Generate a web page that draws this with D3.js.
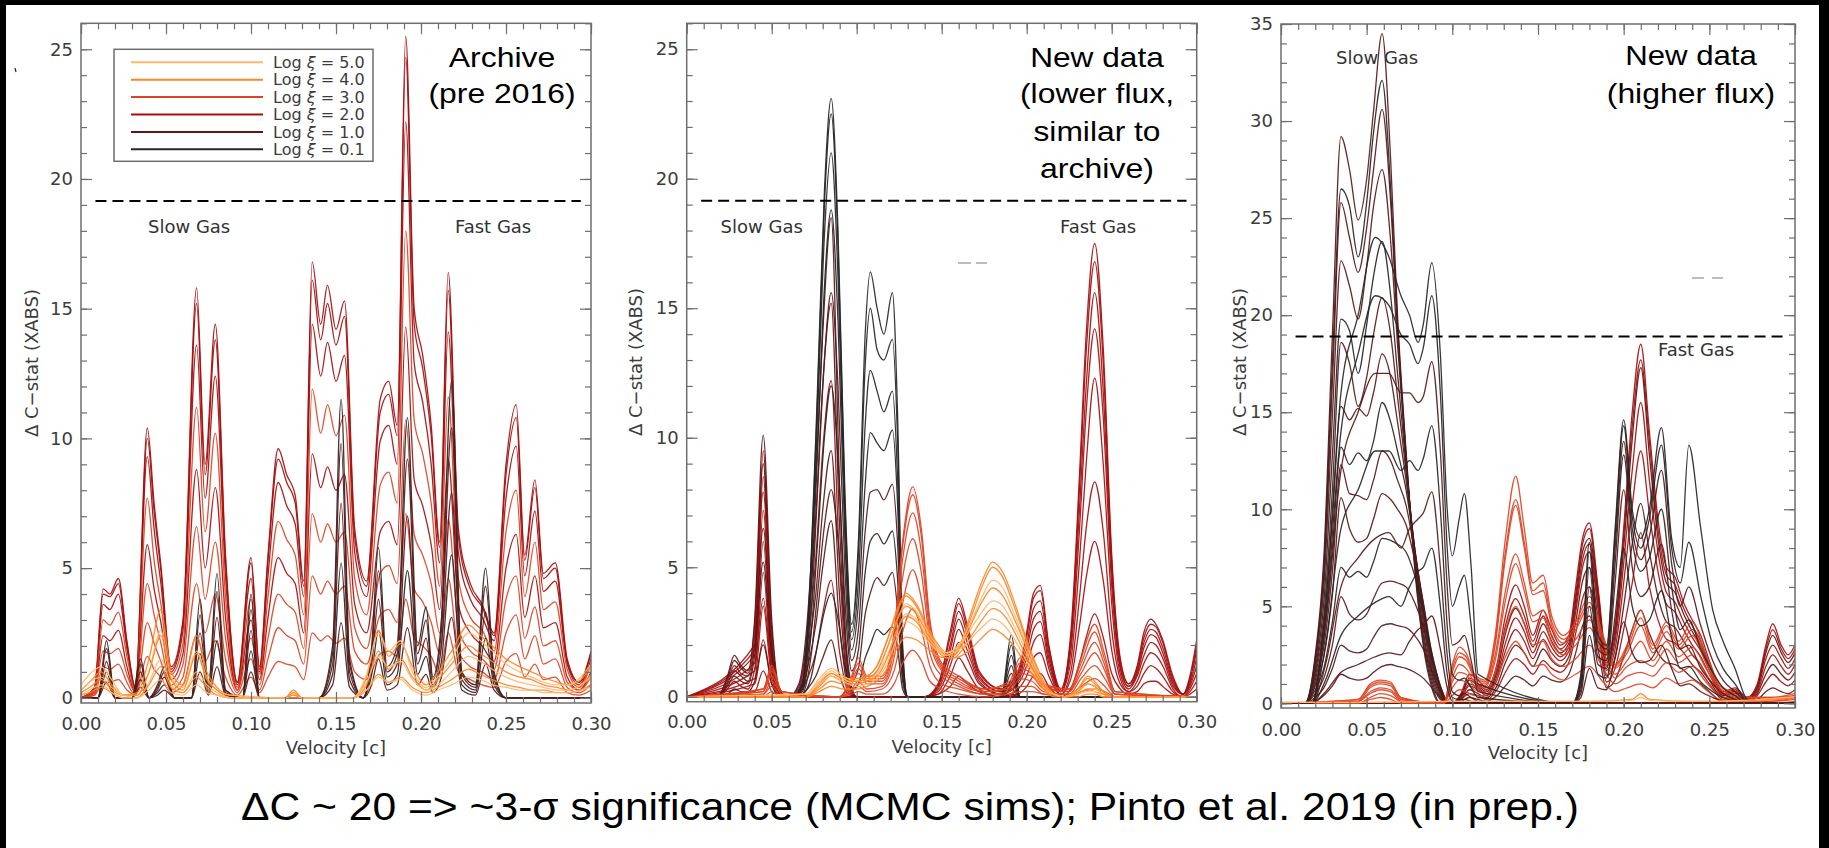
<!DOCTYPE html>
<html><head><meta charset="utf-8">
<script src="https://cdn.jsdelivr.net/npm/d3@7"></script>
<style>html,body{margin:0;padding:0;background:#000;}svg{display:block;}</style>
</head><body><svg id="c" width="1829" height="848"></svg>
<script>
// ================= DATA =================
const xiLevels = ["5.0","4.0","3.0","2.0","1.0","0.1"];
const velocityTicks = [0,0.05,0.10,0.15,0.20,0.25,0.30];
const yTicksP12 = [0,5,10,15,20,25];
const yTicksP3 = [0,5,10,15,20,25,30,35];
const significance = [19.15,19.15,18.9];
const significanceRange = [0.0085,0.294];
const panelTitles = [["Archive","(pre 2016)"],["New data","(lower flux,","similar to","archive)"],["New data","(higher flux)"]];
const caption = "\u0394C ~ 20 => ~3-\u03c3 significance (MCMC sims); Pinto et al. 2019 (in prep.)";

// ---- Panel 1 (Archive) ----
const p1RedV = [0,.008,.013,.017,.022,.027,.032,.039,.043,.047,.053,.060,.068,.073,.079,.085,.092,.100,.105,.110,.116,.121,.126,.131,.136,.141,.145,.150,.155,.161,.168,.176,.181,.186,.191,.196,.201,.206,.211,.216,.222,.229,.236,.243,.250,.256,.261,.267,.272,.279,.286,.293,.300];
const p1Red = [
[0,.4,4.2,4.0,4.6,2.2,.4,10.4,7.5,5.1,1.2,3.0,15.8,9.0,14.4,5.5,.6,5.4,1.2,5.5,9.6,8.6,7.8,4.5,16.8,14.4,15.9,14.2,15.3,6.5,4.5,11.5,12.2,10.5,25.5,15.0,13.2,10.5,6.0,16.4,6.5,4.4,3.6,2.5,9.0,11.3,5.5,8.4,4.8,5.2,1.5,.6,1.8],
[0,.4,4.0,3.9,4.4,2.1,.4,10.0,7.2,4.9,1.1,2.9,15.2,8.6,13.8,5.3,.6,5.2,1.1,5.3,9.2,8.3,7.5,4.3,16.1,13.8,15.2,13.6,14.7,6.2,4.3,11.0,11.7,10.1,24.7,14.4,12.7,10.1,5.8,15.7,6.2,4.2,3.5,2.4,8.6,10.8,5.3,8.1,4.6,5.0,1.4,.6,1.7],
[0,.3,3.6,3.4,4.0,1.9,.3,9.3,6.5,4.4,1.0,2.6,13.6,7.7,12.4,4.7,.5,4.6,1.0,4.7,8.3,7.4,6.7,3.9,14.4,12.4,13.7,12.2,13.2,5.6,3.9,9.9,10.5,9.0,22.2,12.9,11.4,9.0,5.2,14.1,5.6,3.8,3.1,2.2,7.7,9.7,4.7,7.2,4.1,4.5,1.3,.5,1.5],
[0,.3,3.0,2.8,3.3,1.6,.3,7.7,5.3,3.6,.9,2.1,11.2,6.4,10.2,3.9,.4,3.8,.9,3.9,6.8,6.1,5.5,3.2,11.9,10.2,11.3,10.1,10.9,4.6,3.2,8.2,8.7,7.5,18.0,10.7,9.4,7.5,4.3,11.6,4.6,3.1,2.6,1.8,6.4,8.0,3.9,6.0,3.4,3.7,1.1,.4,1.3],
[0,.2,2.4,2.2,2.6,1.2,.2,5.9,4.2,2.9,.7,1.7,8.8,5.0,8.1,3.1,.3,3.0,.7,3.1,5.4,4.8,4.4,2.5,9.4,8.1,8.9,8.0,8.6,3.6,2.5,6.4,6.8,5.9,14.3,8.4,7.4,5.9,3.4,9.2,3.6,2.5,2.0,1.4,5.0,6.3,3.1,4.7,2.7,2.9,.8,.3,1.0],
[0,.2,1.8,1.7,1.9,.9,.2,4.4,3.2,2.1,.5,1.3,6.6,3.8,6.0,2.3,.3,2.3,.5,2.3,4.0,3.6,3.3,1.9,7.1,6.0,6.7,6.0,6.4,2.7,1.9,4.8,5.1,4.4,10.7,6.3,5.5,4.4,2.5,6.9,2.7,1.8,1.5,1.1,3.8,4.7,2.3,3.5,2.0,2.2,.6,.3,.8],
[0,.1,1.2,1.1,1.3,.6,.1,2.9,2.1,1.4,.3,.8,4.4,2.5,4.0,1.5,.2,1.5,.3,1.5,2.7,2.4,2.2,1.3,4.7,4.0,4.5,4.0,4.3,1.8,1.3,3.2,3.4,2.9,7.1,4.2,3.7,2.9,1.7,4.6,1.8,1.2,1.0,.7,2.5,3.2,1.5,2.4,1.3,1.5,.4,.2,.5],
[0,.1,.6,.6,.7,.3,.1,1.6,1.1,.8,.2,.5,2.4,1.4,2.2,.8,.1,.8,.2,.8,1.4,1.3,1.2,.7,2.5,2.2,2.4,2.1,2.3,1.0,.7,1.7,1.8,1.6,3.8,2.3,2.0,1.6,.9,2.5,1.0,.7,.5,.4,1.4,1.7,.8,1.3,.7,.8,.2,.1,.3]];
const p1RedXi = ["2.0","2.0","2.0","3.0","2.0","3.0","3.0","3.0"];

const p1DarkV = [0,.010,.015,.020,.030,.035,.040,.045,.049,.055,.065,.070,.075,.080,.085,.095,.100,.105,.140,.148,.153,.158,.166,.171,.175,.180,.186,.192,.198,.203,.207,.212,.218,.224,.232,.238,.243,.250,.300];
const p1Dark = [
[0,0,2.2,0,0,1.5,0,.5,1.2,0,0,3.8,.5,4.8,.3,0,4.0,0,0,2,11.5,1.5,0,2,5.8,1.2,2,10.8,2,3.5,.8,3,12.2,1,.5,5.0,1.0,0,0],
[0,0,1.9,0,0,1.3,0,.4,1.0,0,0,3.2,.4,4.1,.3,0,3.4,0,0,1.7,9.8,1.3,0,1.7,4.9,1.0,1.7,9.2,1.7,3.0,.7,2.6,10.4,.9,.4,4.3,.9,0,0],
[0,0,1.4,0,0,1.0,0,.3,.8,0,0,2.5,.3,3.1,.2,0,2.6,0,0,1.3,7.5,1.0,0,1.3,3.8,.8,1.3,7.0,1.3,2.3,.5,2.0,7.9,.7,.3,3.3,.7,0,0],
[0,0,1.0,0,0,.7,0,.2,.5,0,0,1.7,.2,2.2,.1,0,1.8,0,0,.9,5.2,.7,0,.9,2.6,.5,.9,4.9,.9,1.6,.4,1.4,5.5,.5,.2,2.3,.5,0,0],
[0,0,.6,0,0,.4,0,.1,.3,0,0,1.0,.1,1.2,.1,0,1.0,0,0,.5,2.9,.4,0,.5,1.5,.3,.5,2.7,.5,.9,.2,.8,3.1,.3,.1,1.3,.3,0,0]];
const p1DarkXi = ["0.1","1.0","1.0","0.1","1.0"];

const p1OrangeV = [0,.005,.012,.018,.025,.033,.040,.047,.053,.060,.068,.074,.080,.088,.120,.125,.130,.160,.168,.175,.181,.188,.195,.203,.210,.218,.228,.235,.242,.250,.258,.265,.272,.280,.287,.294,.300];
const p1Orange = [
[.3,.6,1.0,.5,.1,.2,1.5,3.4,1.0,.5,2.4,1.0,.4,.1,0,.3,0,0,.8,2.6,1.6,2.1,1.2,.5,1.0,1.8,2.8,2.4,2.0,1.5,1.2,1.0,.8,.6,.5,.7,1.2],
[.5,.9,1.2,.7,.1,.1,1.0,2.6,.8,.4,1.8,.8,.3,.1,0,.2,0,0,.9,2.5,1.8,2.2,1.0,.4,.8,1.5,2.5,2.2,1.8,1.3,1.0,.8,.6,.5,.5,.8,1.3],
[.2,.4,.7,.3,.1,.1,1.0,2.4,.7,.3,1.7,.7,.3,0,0,.2,0,0,.5,1.8,1.1,1.5,.8,.3,.7,1.3,2.0,1.7,1.4,1.0,.8,.7,.5,.4,.3,.5,.9],
[.3,.6,.8,.4,.1,0,.6,1.5,.5,.2,1.0,.5,.2,0,0,.1,0,0,.6,1.6,1.2,1.4,.7,.3,.5,1.0,1.6,1.4,1.1,.8,.6,.5,.4,.3,.3,.5,.8],
[.1,.2,.4,.2,0,0,.5,1.2,.4,.2,.8,.4,.1,0,0,.1,0,0,.3,.9,.6,.8,.4,.2,.4,.7,1.1,.9,.7,.5,.4,.3,.3,.2,.2,.3,.5],
[.1,.3,.5,.2,0,0,.3,.7,.2,.1,.5,.2,.1,0,0,0,0,0,.3,.8,.6,.7,.3,.1,.3,.5,.8,.7,.5,.4,.3,.3,.2,.2,.2,.3,.4]];
const p1OrangeXi = ["4.0","5.0","4.0","5.0","4.0","5.0"];

// ---- Panel 2 (New data, lower flux) ----
const p2DarkV = [0,.062,.068,.073,.077,.081,.085,.089,.093,.097,.101,.105,.108,.112,.116,.121,.124,.127,.130,.185,.191,.196,.300];
const p2Dark = [
[0,0,.5,5,12,19.5,23.1,18,8,2.8,6,14,16.4,15.0,14.0,15.6,11,2,0,0,2.4,0,0],
[0,0,.5,4.8,11.6,19,22.5,17.5,7.6,2.5,5.5,12.8,15.0,13.4,13.0,13.8,10,1.8,0,0,2.0,0,0],
[0,0,.4,4.4,10.8,17.8,21.0,16.2,7,2.2,4.5,10.5,12.6,11.8,11.0,11.8,8.5,1.5,0,0,1.6,0,0],
[0,0,.3,3.8,9.5,15.8,18.8,14.5,6.2,1.8,3.6,8.2,10.2,9.8,9.5,10.3,7.5,1.2,0,0,1.2,0,0],
[0,0,.3,3.0,8,13,15.6,12,5,1.4,2.6,6.4,7.9,8.0,7.6,8.2,6,1,0,0,.9,0,0],
[0,0,.2,2.3,6,10,12.0,9.2,3.8,1.0,1.8,4.8,6.0,6.3,5.9,6.4,4.6,.8,0,0,.6,0,0],
[0,0,.1,1.5,4,6.6,8.0,6.1,2.5,.6,1.1,3.2,4.0,4.6,4.3,4.8,3.4,.6,0,0,.3,0,0],
[0,0,.1,.7,2,3.3,4.0,3.0,1.2,.3,.5,1.5,2.0,2.6,2.4,2.7,1.9,.3,0,0,.1,0,0]];
const p2DarkXi = ["0.1","0.1","0.1","0.1","1.0","0.1","1.0","0.1"];

const p2MaroonV = [0,.018,.024,.028,.032,.036,.040,.045,.050,.055,.060,.066,.071,.076,.080,.085,.090,.095,.100,.300];
const p2Maroon = [
[0,0,.8,1.6,1.2,1.0,3,10.1,3,.2,0,.5,3,8.5,14,18.5,8,1,0,0],
[0,0,.7,1.4,1.1,.9,2.8,9.0,2.6,.2,0,.4,2.5,7.0,12,15.2,6.5,.8,0,0],
[0,0,.6,1.2,.9,.8,2.4,7.9,2.3,.1,0,.3,2.1,5.4,9.5,12.2,5,.6,0,0],
[0,0,.5,1.0,.8,.6,2.0,6.5,1.9,.1,0,.2,1.6,4.0,7.2,9.5,3.8,.5,0,0],
[0,0,.4,.8,.6,.5,1.6,5.2,1.5,.1,0,.1,1.1,2.8,5.0,6.8,2.7,.3,0,0],
[0,0,.3,.6,.4,.3,1.1,3.8,1.0,0,0,.1,.7,1.7,3.2,4.5,1.7,.2,0,0],
[0,0,.1,.3,.2,.2,.6,2.0,.5,0,0,0,.3,.8,1.5,2.2,.8,.1,0,0]];
const p2MaroonXi = ["1.0","1.0","2.0","1.0","1.0","2.0","1.0"];

const p2RedV = [0,.040,.045,.050,.056,.140,.148,.155,.160,.165,.172,.185,.195,.200,.204,.208,.213,.220,.226,.231,.235,.240,.245,.250,.255,.260,.265,.269,.273,.276,.280,.286,.292,.296,.300];
const p2Red = [
[0,2,9.5,2,0,0,.5,2.5,3.8,2.8,1.0,.3,1.0,2.5,4.0,4.3,2.0,.3,2.5,8.5,14,17.5,13.5,5.5,1.5,.5,1.2,2.5,3.0,2.8,2.2,.8,.1,.8,2.2],
[0,1.8,8.5,1.8,0,0,.5,2.3,3.6,2.6,.9,.3,.9,2.3,3.8,4.1,1.9,.3,2.3,8.0,13.3,16.8,12.9,5.2,1.4,.5,1.1,2.3,2.8,2.7,2.1,.7,.1,.7,2.0],
[0,1.6,7.2,1.6,0,0,.4,2.0,3.3,2.4,.8,.2,.8,2.0,3.4,3.7,1.7,.2,2.1,7.2,12.0,15.6,11.8,4.8,1.2,.4,1.0,2.1,2.6,2.5,1.9,.6,.1,.6,1.8],
[0,1.3,6.0,1.3,0,0,.4,1.8,3.0,2.1,.7,.2,.7,1.8,3.0,3.3,1.5,.2,1.8,6.4,11,14.2,10.8,4.3,1.1,.4,.9,1.9,2.4,2.3,1.7,.5,.1,.5,1.5],
[0,1.0,4.8,1.0,0,0,.3,1.5,2.6,1.8,.6,.1,.6,1.5,2.6,2.9,1.3,.2,1.4,5.2,9,12.3,9,3.6,.9,.3,.8,1.6,2.1,2.0,1.5,.4,.1,.4,1.2],
[0,.7,3.5,.7,0,0,.2,1.2,2.1,1.5,.5,.1,.5,1.2,2.1,2.4,1.1,.1,1.0,3.8,6.5,8.3,6.4,2.6,.7,.2,.6,1.3,1.7,1.6,1.2,.3,0,.3,.9],
[0,.5,2.2,.5,0,0,.1,.8,1.5,1.0,.3,0,.3,.8,1.5,1.7,.8,.1,.7,2.7,4.6,6.0,4.5,1.8,.5,.2,.4,.9,1.2,1.1,.8,.2,0,.2,.6],
[0,.2,1.0,.2,0,0,.1,.4,.8,.5,.2,0,.1,.4,.8,.9,.4,0,.3,1.3,2.3,3.2,2.3,.9,.3,.1,.2,.5,.6,.6,.4,.1,0,.1,.3]];
const p2RedXi = ["2.0","2.0","2.0","2.0","2.0","2.0","2.0","2.0"];

const p2OrRedV = [0,.045,.050,.056,.090,.097,.101,.106,.115,.122,.127,.133,.138,.143,.150,.160,.175,.190,.196,.203,.210,.225,.232,.240,.246,.252,.300];
const p2OrRed = [
[0,.3,1.2,.2,0,.8,1.5,.8,.8,2.5,6.0,8.1,6.5,3.0,1.3,.8,.3,.6,1.5,1.2,.5,.3,1.5,2.8,1.6,.2,0],
[0,.3,1.1,.2,0,.7,1.3,.7,.7,2.4,5.8,7.8,6.2,2.8,1.2,.7,.3,.5,1.3,1.1,.4,.3,1.3,2.5,1.4,.2,0],
[0,.2,1.0,.2,0,.6,1.1,.6,.6,2.2,5.3,7.1,5.6,2.5,1.1,.6,.2,.4,1.1,.9,.4,.2,1.1,2.1,1.2,.1,0],
[0,.2,.8,.1,0,.5,.9,.5,.5,1.9,4.6,6.1,4.8,2.2,1.0,.5,.2,.3,.9,.8,.3,.2,.9,1.7,1.0,.1,0],
[0,.1,.6,.1,0,.3,.6,.3,.4,1.5,3.6,4.9,3.8,1.7,.8,.4,.1,.2,.7,.6,.2,.1,.7,1.2,.7,.1,0],
[0,.1,.4,0,0,.2,.4,.2,.3,1.0,2.5,3.4,2.6,1.2,.5,.3,.1,.1,.4,.4,.1,.1,.4,.7,.4,0,0],
[0,0,.2,0,0,.1,.2,.1,.1,.5,1.3,1.8,1.4,.6,.3,.1,0,.1,.2,.2,.1,0,.2,.3,.2,0,0]];
const p2OrRedXi = ["3.0","3.0","3.0","3.0","3.0","3.0","3.0"];

const p2OrangeV = [0,.070,.078,.085,.092,.100,.106,.112,.118,.124,.129,.135,.141,.147,.153,.157,.162,.168,.174,.180,.186,.192,.198,.204,.210,.216,.222,.230,.236,.240,.245,.252,.300];
const p2Orange = [
[0,0,.5,.9,.7,.7,.8,1.2,2.2,3.4,4.0,3.6,2.8,2.1,1.7,1.7,2.2,3.4,4.5,5.2,4.8,3.8,2.6,1.5,.6,.1,0,.3,.8,.6,.2,0,0],
[0,0,.5,.9,.7,.7,.8,1.2,2.2,3.3,3.9,3.5,2.7,2.0,1.6,1.6,2.1,3.2,4.3,5.0,4.6,3.6,2.5,1.4,.5,.1,0,.3,.7,.5,.2,0,0],
[0,.1,.7,1.1,.8,.6,.7,1.0,1.9,3.0,3.6,3.3,2.6,2.0,1.7,1.8,2.2,3.0,3.9,4.5,4.2,3.3,2.3,1.3,.5,.1,0,.2,.5,.4,.1,0,0],
[0,0,.4,.8,.6,.6,.7,1.0,1.9,3.0,3.5,3.2,2.5,1.9,1.6,1.6,2.0,2.9,3.7,4.2,3.9,3.1,2.2,1.2,.5,.1,0,.2,.5,.4,.1,0,0],
[0,.1,.6,1.0,.7,.5,.6,.9,1.6,2.6,3.2,3.0,2.4,1.9,1.7,1.8,2.1,2.7,3.3,3.7,3.5,2.8,2.0,1.1,.4,.1,0,.1,.3,.3,.1,0,0],
[0,0,.3,.6,.5,.5,.6,.8,1.5,2.6,3.1,2.9,2.3,1.8,1.5,1.5,1.8,2.4,3.0,3.4,3.2,2.6,1.8,1.0,.4,.1,0,.1,.3,.2,.1,0,0],
[0,.1,.5,.8,.6,.4,.5,.7,1.3,2.3,2.9,2.7,2.2,1.8,1.6,1.7,1.9,2.3,2.7,3.0,2.8,2.3,1.6,.9,.3,.1,0,.1,.2,.2,0,0,0],
[0,0,.2,.4,.3,.3,.4,.6,1.1,1.9,2.3,2.2,1.9,1.6,1.5,1.5,1.6,1.9,2.3,2.6,2.4,2.0,1.4,.8,.3,0,0,0,.1,.1,0,0,0]];
const p2OrangeXi = ["4.0","4.0","5.0","4.0","5.0","4.0","5.0","4.0"];

// ---- Panel 3 (New data, higher flux) ----
const p3SlowV = [0,.014,.020,.025,.030,.035,.040,.045,.050,.054,.059,.064,.068,.073,.078,.083,.088,.093,.098,.103,.300];
const p3Slow = [
[0,0,2.5,7.5,19,29.2,27.5,24.9,27,30.5,34.5,28,20,13,7,3,.8,0,0,0,0],
[0,0,2.3,7,17.5,26.5,25.6,23,25.8,29.4,32.1,26.5,19.5,12.8,7.2,3.2,1.0,0,0,0,0],
[0,0,2.2,6.6,16.5,25.8,24,22.2,24.5,27.5,30.6,25.8,19.2,12.6,7.4,3.5,1.2,.2,0,0,0],
[0,0,2,6,14.8,22.8,21.5,19.8,22.5,25.6,27.5,23.8,18.5,12.5,7.6,3.8,1.4,.3,0,0,0],
[0,0,1.8,5.2,12.8,19.8,19.2,17.0,19.5,22.0,23.8,21.0,17.0,12.2,7.8,4.2,1.6,.4,0,0,0],
[0,0,1.6,4.5,11,18.6,17.5,15.3,16.8,19.0,20.9,19.0,15.8,11.9,8.0,4.5,1.8,.5,0,0,0],
[0,0,1.4,4,9.5,15.3,14.6,15.2,14.8,16.0,18.0,16.8,14.5,11.5,8.0,4.8,2.0,.6,0,0,0],
[0,0,1.2,3.4,8,13.2,12.3,12.9,12.5,13.5,15.5,14.5,13.0,11.0,8.0,5.0,2.2,.7,0,0,0],
[0,0,1.0,2.9,6.8,12.3,10.8,10.7,10.5,11.5,13.0,12.5,11.5,10.2,7.8,5.2,2.4,.8,0,0,0],
[0,0,.9,2.4,5.6,10.6,9.0,8.3,8.5,9.5,10.8,10.5,10.0,9.2,7.4,5.2,2.6,.9,0,0,0],
[0,0,.7,1.8,4.2,7.0,6.5,6.8,6.5,7.3,8.5,8.4,8.2,7.8,6.6,4.8,2.6,.9,0,0,0],
[0,0,.5,1.3,3.0,5.5,4.6,4.3,4.6,5.4,6.2,6.3,6.2,6.0,5.2,4.0,2.3,.8,0,0,0],
[0,0,.3,.8,1.8,3.0,2.7,2.6,2.8,3.4,4.0,4.1,4.0,3.9,3.5,2.8,1.7,.6,0,0,0],
[0,0,.1,.4,.9,1.5,1.3,1.2,1.3,1.6,1.9,2.0,1.9,1.8,1.6,1.3,.8,.3,0,0,0]];
const p3SlowXi = ["1.0","0.1","1.0","1.0","0.1","1.0","1.0","0.1","1.0","1.0","0.1","1.0","1.0","1.0"];

const p3DarkV = [0,.018,.026,.035,.045,.055,.063,.070,.075,.080,.083,.088,.093,.097,.100,.104,.107,.111,.115,.170,.175,.180,.185,.190,.195,.200,.205,.210,.215,.222,.228,.233,.238,.245,.252,.258,.265,.272,.278,.300];
const p3Dark = [
[0,0,5,16,20,24,23,21,20,18.6,19.5,22.7,18,10,7.6,9.5,10.8,7,1.5,0,1.5,8.3,3.5,3,9,14.6,10,8.5,10,14.2,8.5,7,13.3,9,4.8,3.2,1.8,.2,0,0],
[0,0,4.5,14,18,21,20.5,19,18.5,17.5,18.3,21.0,16,8,5,6,6.6,4,1,0,1.3,7.8,3.2,2.8,8.6,14.3,9.6,8.0,9.5,13.3,8.0,6.2,8.3,5.5,3.0,1.8,1.0,.1,0,0],
[0,0,4,12,15,17,17,16,16,15.5,15.8,17.6,13,6,3,3.2,3.5,2.2,.6,0,1.1,7.0,2.8,2.5,8.0,13.5,9.0,7.4,8.6,12.0,7.2,5.0,6.0,4.0,2.2,1.2,.6,.1,0,0],
[0,0,3,9,11,13,13,12,12.5,12,12.6,14.3,10,4,1.5,1.2,1.3,.8,.3,0,.9,6.0,2.4,2.2,7.2,12.8,8.4,6.8,7.5,10.0,6.0,3.8,4.3,2.8,1.6,.8,.4,0,0,0],
[0,0,2,6,7.5,8.5,8.8,8,9,9.5,9.8,10.9,7,2.5,.6,.4,.5,.3,.1,0,.7,5.0,2.0,1.8,6.2,11.0,7.0,5.5,6.0,8.2,4.8,2.8,3.0,1.8,1.0,.5,.2,0,0,0],
[0,0,1.2,3.5,4.5,5.2,5.5,5,6,6.8,7.0,8.0,5,1.5,.3,.2,.2,.1,0,0,.5,3.5,1.5,1.3,4.5,8.0,5.0,4.0,4.3,5.8,3.4,1.8,1.9,1.1,.6,.3,.1,0,0,0],
[0,0,.6,1.6,2.0,2.4,2.6,2.5,3.2,3.8,4.0,4.5,2.8,.8,.1,0,0,0,0,0,.3,1.8,.8,.7,2.4,4.2,2.6,2.1,2.2,3.0,1.8,.9,1.0,.6,.3,.1,0,0,0,0]];
const p3DarkXi = ["0.1","0.1","1.0","0.1","1.0","0.1","1.0"];

const p3RedV = [0,.100,.105,.110,.115,.120,.126,.131,.137,.142,.147,.153,.158,.163,.168,.172,.176,.180,.185,.190,.195,.200,.205,.210,.215,.220,.225,.230,.235,.240,.245,.250,.258,.265,.272,.278,.283,.287,.292,.296,.300];
const p3Red = [
[0,0,.5,1.5,1.2,.8,2,4.5,6.1,5,3.5,4.8,3.8,3.0,3.5,6,8.5,9.3,6,2.5,4,9,15,18.5,14,9.5,7.0,6.5,5.2,4.3,3.5,2.2,.6,.8,.3,1.0,3.0,4.1,3.0,2.5,3.0],
[0,0,.4,1.3,1.0,.7,1.8,4.0,5.4,4.5,3.2,4.5,3.5,2.8,3.3,5.6,8.2,9.0,5.8,2.3,3.8,8.6,14.3,17.7,13.5,9.0,6.6,6.1,4.9,4.0,3.2,2.0,.5,.7,.3,.9,2.8,3.8,2.8,2.3,2.8],
[0,0,.4,1.2,.9,.6,1.6,3.6,4.9,4.1,2.9,4.1,3.2,2.6,3.1,5.3,7.8,8.5,5.5,2.1,3.5,8.0,13.6,17.3,12.8,8.5,6.2,5.7,4.6,3.7,3.0,1.9,.5,.6,.2,.8,2.6,3.5,2.6,2.1,2.6],
[0,0,.3,1.0,.8,.5,1.4,3.1,4.4,3.7,2.6,3.7,2.9,2.4,2.9,5.0,7.4,8.2,5.2,1.9,3.2,7.2,12.0,15.5,11.5,7.8,5.7,5.2,4.2,3.4,2.7,1.7,.4,.6,.2,.7,2.3,3.0,2.3,1.8,2.3],
[0,0,.3,.9,.7,.4,1.2,2.7,3.8,3.2,2.3,3.3,2.6,2.2,2.7,4.7,7.0,7.8,4.9,1.7,2.8,6.2,10.2,13.0,9.8,6.8,5.1,4.7,3.8,3.0,2.4,1.5,.4,.5,.2,.6,1.9,2.5,1.9,1.5,2.0],
[0,0,.2,.7,.5,.3,.9,2.1,3.0,2.6,1.9,2.8,2.2,1.9,2.4,4.2,6.3,7.0,4.4,1.4,2.3,5.0,8.2,10.3,7.8,5.5,4.2,3.9,3.2,2.5,2.0,1.2,.3,.4,.1,.5,1.5,2.0,1.5,1.2,1.6],
[0,0,.2,.5,.4,.2,.7,1.6,2.3,2.0,1.5,2.2,1.8,1.6,2.1,3.6,5.4,6.0,3.8,1.1,1.8,3.8,6.2,8.8,6.0,4.3,3.3,3.1,2.6,2.0,1.6,1.0,.2,.3,.1,.4,1.1,1.5,1.1,.9,1.2],
[0,0,.1,.3,.2,.1,.4,.9,1.4,1.2,.9,1.4,1.2,1.1,1.5,2.6,4.0,4.5,2.8,.8,1.2,2.4,3.8,4.8,3.6,2.6,2.1,2.0,1.7,1.3,1.0,.6,.1,.2,.1,.2,.6,.8,.6,.5,.7]];
const p3RedXi = ["2.0","2.0","1.0","2.0","2.0","1.0","2.0","1.0"];

const p3OrRedV = [0,.045,.052,.058,.064,.070,.095,.100,.104,.108,.113,.119,.125,.131,.137,.142,.147,.153,.158,.165,.172,.180,.188,.195,.202,.210,.217,.225,.232,.240,.248,.256,.265,.275,.285,.300];
const p3OrRed = [
[0,.2,1.0,1.2,1.1,.3,0,2.0,2.9,2.6,1.5,1.2,3.5,8.5,11.7,9.0,6.2,6.6,4.5,3.5,4.2,5.5,3.5,2.0,3.0,4.8,3.0,4.2,3.2,4.2,2.5,1.0,.5,.3,.3,.5],
[0,.2,.9,1.1,1.0,.3,0,1.8,2.6,2.4,1.4,1.1,3.2,7.8,10.5,8.3,5.8,6.2,4.2,3.3,4.0,5.2,3.3,1.9,2.8,4.4,2.8,4.0,3.0,3.8,2.3,.9,.5,.3,.3,.4],
[0,.1,.8,1.0,.9,.2,0,1.6,2.4,2.2,1.3,1.0,3.0,7.5,10.2,8.0,5.6,5.8,4.0,3.1,3.8,5.0,3.1,1.8,2.6,4.0,2.6,3.7,2.8,3.5,2.1,.8,.4,.2,.2,.4],
[0,.1,.6,.8,.7,.2,0,1.3,2.0,1.8,1.1,.9,2.5,5.8,7.7,6.2,4.5,4.8,3.4,2.7,3.3,4.3,2.7,1.5,2.2,3.2,2.2,3.2,2.4,2.9,1.8,.7,.3,.2,.2,.3],
[0,.1,.5,.7,.6,.1,0,1.1,1.6,1.5,.9,.8,2.2,5.3,7.2,5.8,4.2,4.4,3.1,2.5,3.0,3.9,2.4,1.3,1.9,2.2,1.9,2.8,2.1,2.5,1.5,.6,.3,.1,.1,.3],
[0,0,.3,.5,.4,.1,0,.8,1.2,1.1,.7,.6,1.6,3.8,5.0,4.1,3.0,3.2,2.3,1.9,2.3,3.0,1.8,1.0,1.4,1.6,1.4,2.1,1.6,1.9,1.1,.4,.2,.1,.1,.2],
[0,0,.2,.3,.2,0,0,.4,.7,.6,.4,.4,1.0,2.4,3.2,2.6,1.9,2.0,1.5,1.2,1.5,1.9,1.1,.6,.8,1.0,.8,1.3,1.0,1.2,.7,.2,.1,0,0,.1]];
const p3OrRedXi = ["3.0","3.0","3.0","3.0","3.0","3.0","3.0"];

const p3OrangeV = [0,.05,.10,.15,.18,.205,.21,.215,.24,.27,.30];
const p3Orange = [
[.05,.05,.1,.1,.1,.2,.5,.2,.1,.1,.3],
[.05,.05,.1,.1,.1,.15,.3,.15,.1,.15,.35]];
const p3OrangeXi = ["4.0","5.0"];

// ================= STYLE / LAYOUT =================
const xiColor = {"5.0":"#ffb86e","4.0":"#ff8526","3.0":"#dc4425","2.0":"#a50e0e","1.0":"#5c1717","0.1":"#262626"};
const W = 1829, H = 848;
const layouts = [
  {x0:81, x1:591, yT:23.3, yB:703, yDom:[-0.2,26], yTicks:yTicksP12, yMax:26, pad:14,
   titleX:502, titleY:[66.7,102.7], titleW:[106.7,147],
   slow:[148,227], fast:[455,227], ylab:[32,363],
   fams:[[p1RedV,p1Red,p1RedXi],[p1DarkV,p1Dark,p1DarkXi],[p1OrangeV,p1Orange,p1OrangeXi]]},
  {x0:686.7, x1:1196.7, yT:23.3, yB:701.7, yDom:[-0.19,26], yTicks:yTicksP12, yMax:26, pad:14,
   titleX:1097, titleY:[66.7,103.3,141,178], titleW:[133.6,154,127,114],
   slow:[720.6,227], fast:[1060,227], ylab:[635.6,362],
   fams:[[p2RedV,p2Red,p2RedXi],[p2MaroonV,p2Maroon,p2MaroonXi],[p2DarkV,p2Dark,p2DarkXi],[p2OrRedV,p2OrRed,p2OrRedXi],[p2OrangeV,p2Orange,p2OrangeXi]]},
  {x0:1281, x1:1795, yT:24, yB:708, yDom:[-0.24,35], yTicks:yTicksP3, yMax:35, pad:15.5,
   titleX:1691, titleY:[65,103], titleW:[131.7,168.5],
   slow:[1336,58], fast:[1658,350], ylab:[1239.6,362],
   fams:[[p3SlowV,p3Slow,p3SlowXi],[p3RedV,p3Red,p3RedXi],[p3OrRedV,p3OrRed,p3OrRedXi],[p3DarkV,p3Dark,p3DarkXi],[p3OrangeV,p3Orange,p3OrangeXi]]}
];
const AX = "#6e6e6e", TXT = "#3c3c3c", FONT = "DejaVu Sans, Verdana, sans-serif";

const svg = d3.select("#c");
svg.append("rect").attr("width",W).attr("height",H).attr("fill","#000");
svg.append("rect").attr("x",6).attr("y",5).attr("width",1813).attr("height",H-5).attr("fill","#fff");
const defs = svg.append("defs");

layouts.forEach((L,i) => {
  const x = d3.scaleLinear().domain([0,0.3]).range([L.x0,L.x1]);
  const y = d3.scaleLinear().domain(L.yDom).range([L.yB,L.yT]);
  defs.append("clipPath").attr("id","cp"+i).append("rect")
    .attr("x",L.x0).attr("y",L.yT).attr("width",L.x1-L.x0).attr("height",L.yB-L.yT);
  const cg = svg.append("g").attr("clip-path",`url(#cp${i})`);
  const line = d3.line().x(d=>x(d[0])).y(d=>y(d[1])).curve(d3.curveMonotoneX);
  L.fams.forEach(([vs,curves,xis]) => {
    curves.forEach((c,j) => {
      const pts = vs.map((v,k)=>[v,c[k]]).filter(p=>p[1]!==undefined);
      cg.append("path").attr("d",line(pts)).attr("fill","none")
        .attr("stroke",xiColor[xis[j]]).attr("stroke-width",1.3)
        .attr("stroke-linejoin","round").attr("stroke-opacity",0.92);
    });
  });
  // significance threshold
  svg.append("line").attr("x1",x(significanceRange[0])).attr("x2",x(significanceRange[1]))
    .attr("y1",y(significance[i])).attr("y2",y(significance[i]))
    .attr("stroke","#000").attr("stroke-width",2).attr("stroke-dasharray","11,6");

  // axes
  const minorX = d3.range(0,31).map(k=>k/100);
  const minorY = d3.range(0,L.yMax+1);
  const styleAxis = g => { g.select(".domain").remove(); g.selectAll("line").attr("stroke",AX).attr("stroke-width",1.2);
    g.selectAll("text").attr("fill",TXT); g.attr("font-family",FONT).attr("font-size",18); };
  svg.append("g").attr("transform",`translate(0,${L.yB})`)
    .call(d3.axisBottom(x).tickValues(minorX).tickSizeInner(-6).tickSizeOuter(0).tickFormat("")).call(styleAxis);
  svg.append("g").attr("transform",`translate(0,${L.yB})`)
    .call(d3.axisBottom(x).tickValues(velocityTicks).tickSizeInner(-11).tickSizeOuter(0).tickPadding(L.pad).tickFormat(d3.format(".2f"))).call(styleAxis);
  svg.append("g").attr("transform",`translate(0,${L.yT})`)
    .call(d3.axisTop(x).tickValues(minorX).tickSizeInner(-6).tickSizeOuter(0).tickFormat("")).call(styleAxis);
  svg.append("g").attr("transform",`translate(0,${L.yT})`)
    .call(d3.axisTop(x).tickValues(velocityTicks).tickSizeInner(-11).tickSizeOuter(0).tickFormat("")).call(styleAxis);
  svg.append("g").attr("transform",`translate(${L.x0},0)`)
    .call(d3.axisLeft(y).tickValues(minorY).tickSizeInner(-6).tickSizeOuter(0).tickFormat("")).call(styleAxis);
  svg.append("g").attr("transform",`translate(${L.x0},0)`)
    .call(d3.axisLeft(y).tickValues(L.yTicks).tickSizeInner(-11).tickSizeOuter(0).tickPadding(8).tickFormat(d3.format("d"))).call(styleAxis);
  svg.append("g").attr("transform",`translate(${L.x1},0)`)
    .call(d3.axisRight(y).tickValues(minorY).tickSizeInner(-6).tickSizeOuter(0).tickFormat("")).call(styleAxis);
  svg.append("g").attr("transform",`translate(${L.x1},0)`)
    .call(d3.axisRight(y).tickValues(L.yTicks).tickSizeInner(-11).tickSizeOuter(0).tickFormat("")).call(styleAxis);
  svg.append("rect").attr("x",L.x0).attr("y",L.yT).attr("width",L.x1-L.x0).attr("height",L.yB-L.yT)
    .attr("fill","none").attr("stroke",AX).attr("stroke-width",1.5);

  // axis titles
  svg.append("text").attr("x",(L.x0+L.x1)/2).attr("y",L.yB+51).attr("text-anchor","middle")
    .attr("font-family",FONT).attr("font-size",18).attr("fill",TXT).text("Velocity [c]");
  svg.append("text").attr("transform",`translate(${L.ylab[0]},${L.ylab[1]}) rotate(-90)`)
    .attr("text-anchor","middle").attr("dy","0.35em")
    .attr("font-family",FONT).attr("font-size",18).attr("fill",TXT).text("\u0394 C\u2212stat (XABS)");
  // region labels
  [["Slow Gas",L.slow],["Fast Gas",L.fast]].forEach(([t,p]) => {
    svg.append("text").attr("x",p[0]).attr("y",p[1]).attr("dy","0.35em")
      .attr("font-family",FONT).attr("font-size",18).attr("fill","#333").text(t);
  });
  // titles
  panelTitles[i].forEach((t,k) => {
    svg.append("text").attr("x",L.titleX).attr("y",L.titleY[k]).attr("text-anchor","middle")
      .attr("font-family","Liberation Sans, Arial, sans-serif").attr("font-size",28).attr("fill","#000")
      .attr("textLength",L.titleW[k]).attr("lengthAdjust","spacingAndGlyphs").text(t);
  });
});

// legend (panel 1)
const lg = svg.append("g");
lg.append("rect").attr("x",114).attr("y",49.3).attr("width",259).attr("height",112)
  .attr("fill","#fff").attr("stroke",AX).attr("stroke-width",1.5);
xiLevels.forEach((lv,k) => {
  const yy = 62.3 + k*17.4;
  lg.append("line").attr("x1",131).attr("x2",263).attr("y1",yy).attr("y2",yy)
    .attr("stroke",xiColor[lv]).attr("stroke-width",2);
  const t = lg.append("text").attr("x",273).attr("y",yy).attr("dy","0.35em")
    .attr("font-family",FONT).attr("font-size",16).attr("fill",TXT).attr("xml:space","preserve");
  t.append("tspan").text("Log ");
  t.append("tspan").attr("font-style","italic").text("\u03be");
  t.append("tspan").text(" = " + lv);
});

// small stray marks present in the original figure
svg.append("line").attr("x1",15).attr("x2",16).attr("y1",68).attr("y2",72).attr("stroke","#222").attr("stroke-width",1.2);
[[958,971,263],[976,987,263],[1692,1704,278],[1712,1723,278]].forEach(d=>{
  svg.append("line").attr("x1",d[0]).attr("x2",d[1]).attr("y1",d[2]).attr("y2",d[2]).attr("stroke","#999").attr("stroke-width",1.3);
});

// caption
svg.append("text").attr("x",241).attr("y",820).attr("font-family","Liberation Sans, Arial, sans-serif")
  .attr("font-size",38).attr("fill","#000").attr("textLength",1338).attr("lengthAdjust","spacingAndGlyphs").text(caption);
</script></body></html>
